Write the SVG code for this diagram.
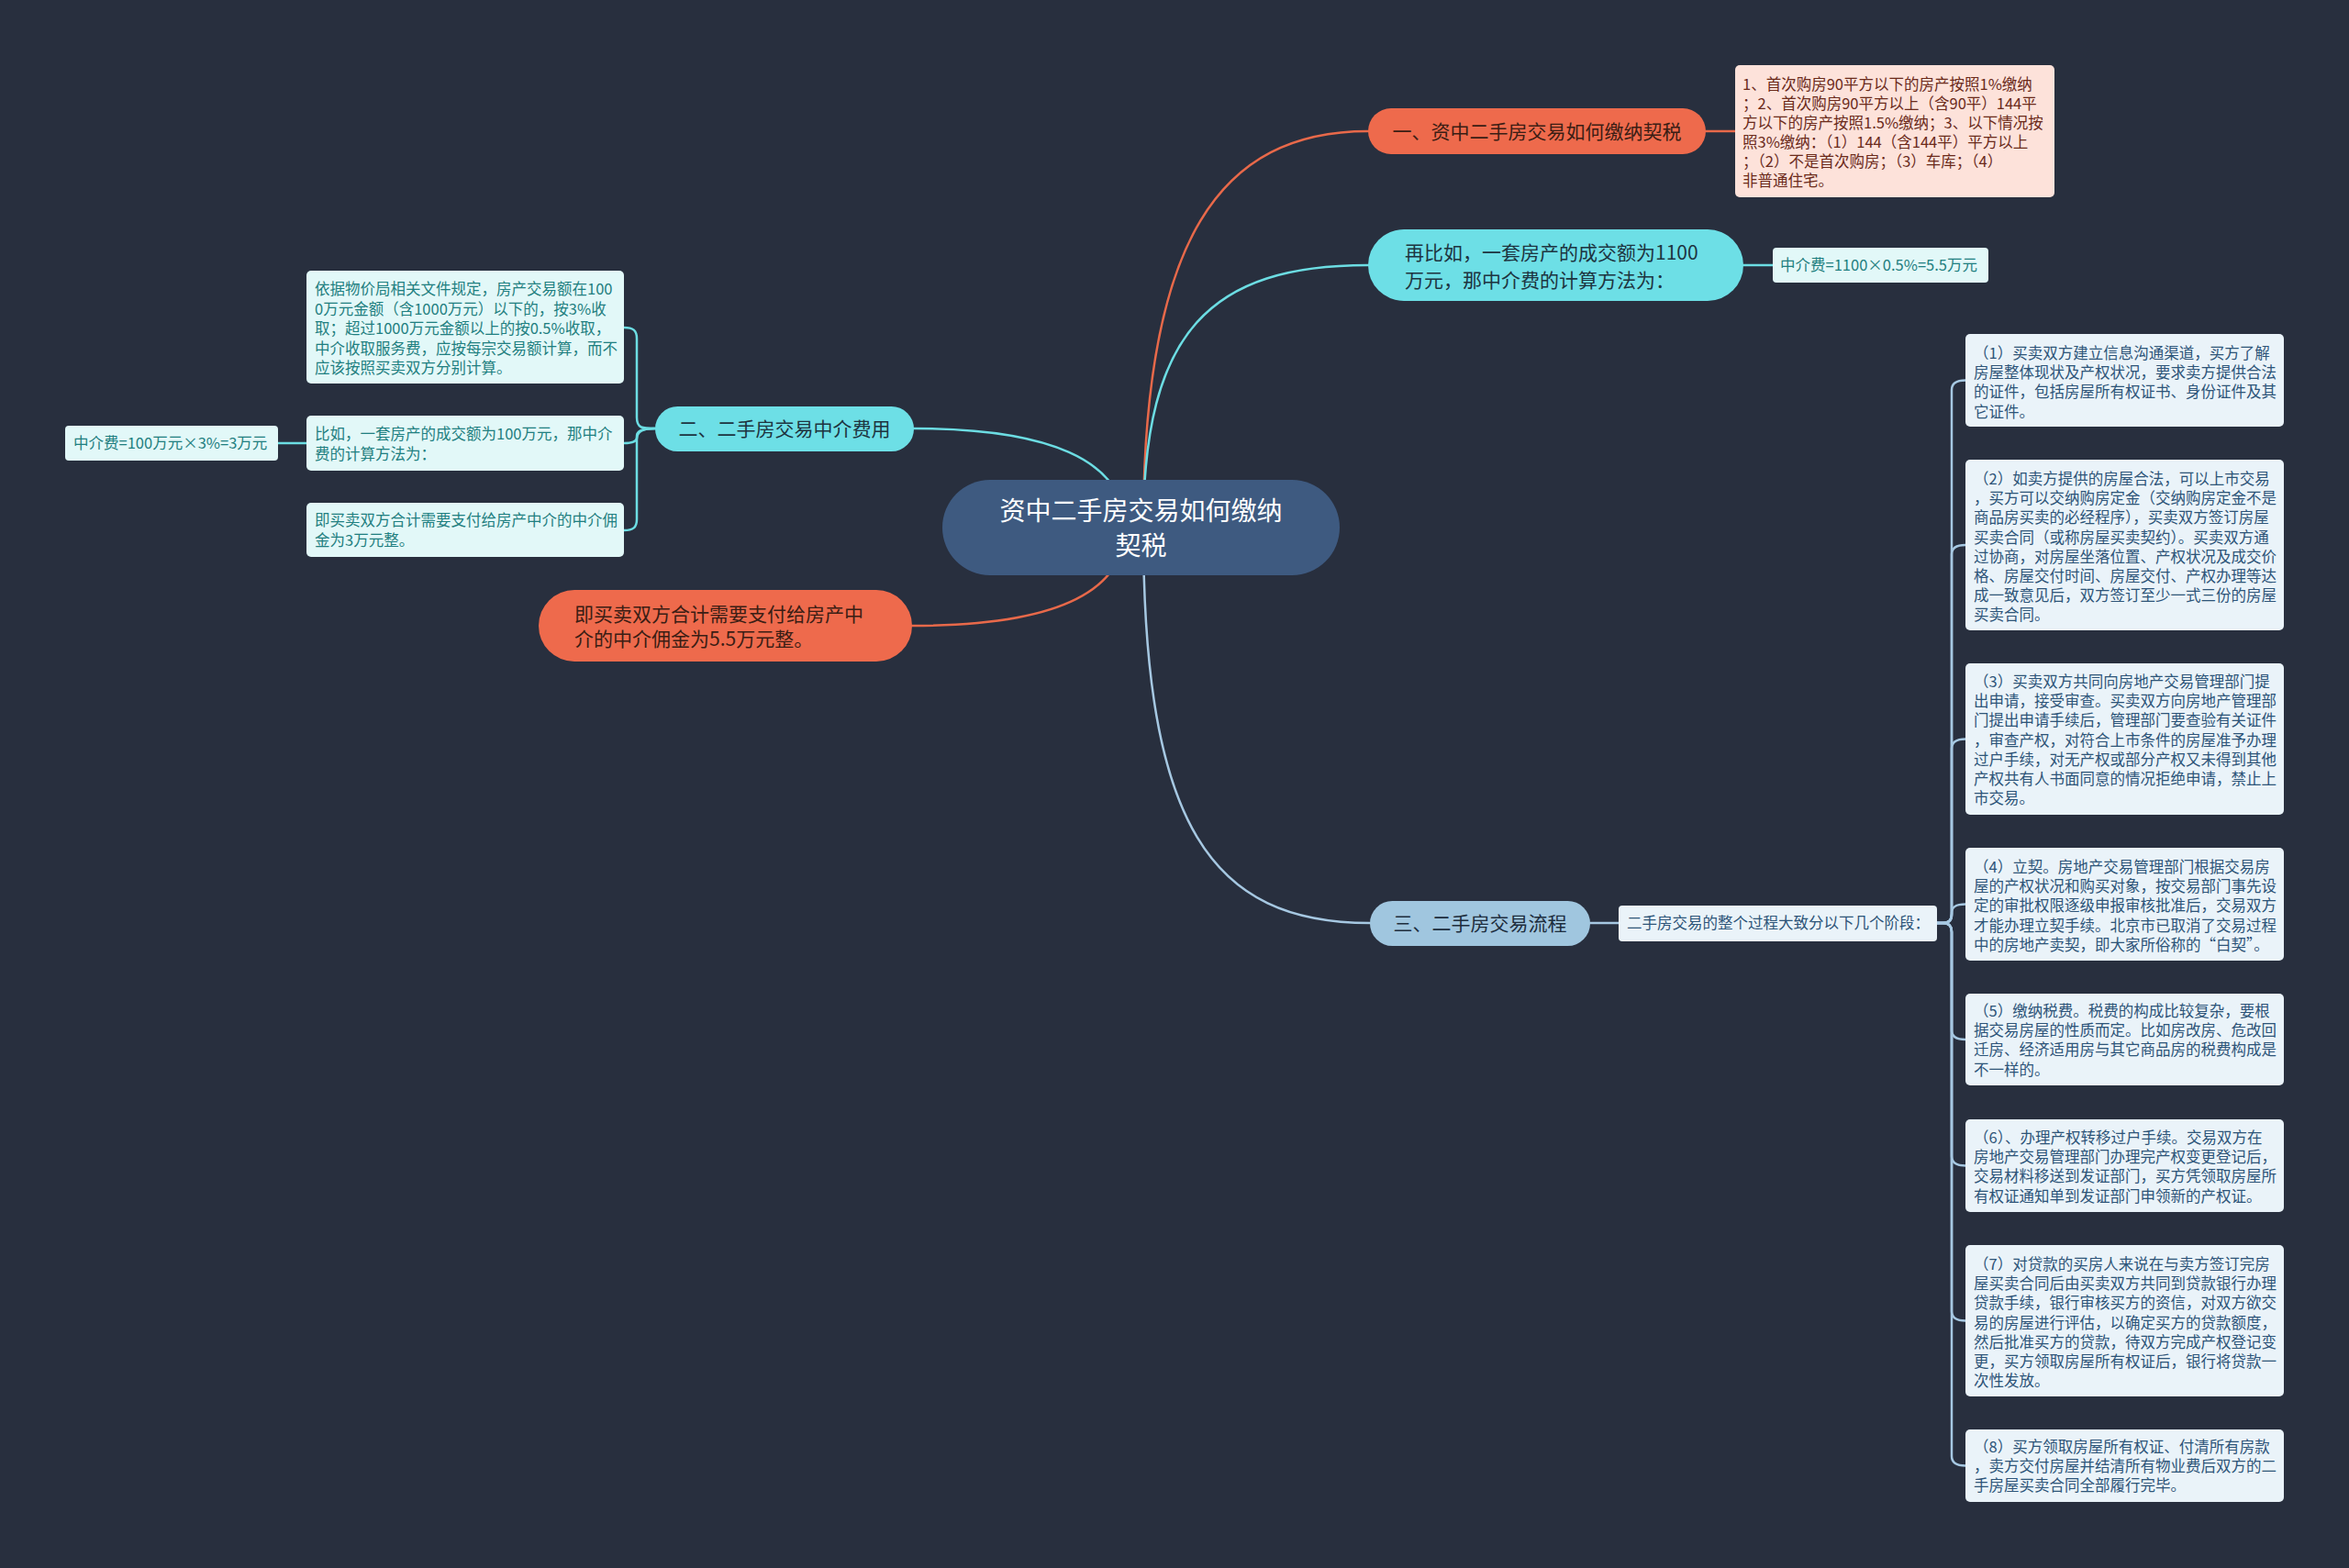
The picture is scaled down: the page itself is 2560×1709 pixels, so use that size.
<svg xmlns="http://www.w3.org/2000/svg" width="2560" height="1709" viewBox="0 0 2560 1709">
<style>
text{font-family:"Noto Sans CJK SC","Noto Sans",sans-serif;}
.c{fill:none;stroke-width:2.5;stroke-linecap:round}
.co{stroke:#e8694a}
.cc{stroke:#6cdde3}
.cb{stroke:#a6c8e2}
.root{fill:#3e5a80}
.rt{fill:#ffffff;font-size:28px}
.red{fill:#ee6a4c}
.redt{fill:#3b1d14;font-size:21px}
.pink{fill:#fde2da}
.pinkt{fill:#6b2a1a;font-size:16.5px}
.cyan{fill:#6ddfe6}
.cyant{fill:#1d3440;font-size:21px}
.lc{fill:#e2f8f8}
.lct{fill:#1f7f80;font-size:16.5px}
.steel{fill:#a0c6df}
.steelt{fill:#1d2d3d;font-size:21px}
.lb{fill:#eaf3f9}
.lbt{fill:#2d5478;font-size:16.5px}
</style>
<rect width="2560" height="1709" fill="#282f3e"/>
<g id="connectors">
<path class="c co" d="M1246,575 C1246,260 1330,143 1491,143"/>
<path class="c co" d="M1859,143 L1891,143"/>
<path class="c cc" d="M1246,575 C1246,360 1320,289 1491,289"/>
<path class="c cc" d="M1900,289 L1932,289"/>
<path class="c cc" d="M1226,575 C1226,500 1140,467 996,467"/>
<path class="c co" d="M1226,575 C1226,650 1140,682 994,682"/>
<path class="c cb" d="M1246,575 C1246,900 1320,1006 1493,1006"/>
<path class="c cb" d="M1733,1006 L1764,1006"/>
<path class="c cc" d="M714,467 C700,467 694,467 694,455 L694,369 C694,360 690,357 680,357"/>
<path class="c cc" d="M714,467 C700,467 694,470 694,475 L694,477 C694,481 690,483 680,483"/>
<path class="c cc" d="M714,467 C700,467 694,470 694,479 L694,566 C694,575 690,578 680,578"/>
<path class="c cc" d="M334,483 L303,483"/>
<path class="c cb" d="M2111,1006 L2117,1006 C2124,1006 2127,1003 2127,996 L2127,425 C2127,418 2132,414.5 2142,414.5"/>
<path class="c cb" d="M2111,1006 L2117,1006 C2124,1006 2127,1003 2127,996 L2127,604 C2127,597 2132,594 2142,594"/>
<path class="c cb" d="M2111,1006 L2117,1006 C2124,1006 2127,1003 2127,996 L2127,816 C2127,809 2132,805.5 2142,805.5"/>
<path class="c cb" d="M2111,1006 L2117,1006 C2124,1006 2127,1003 2127,998 L2127,995 C2127,988 2132,985.5 2142,985.5"/>
<path class="c cb" d="M2111,1006 L2117,1006 C2124,1006 2127,1009 2127,1016 L2127,1123 C2127,1130 2132,1133 2142,1133"/>
<path class="c cb" d="M2111,1006 L2117,1006 C2124,1006 2127,1009 2127,1016 L2127,1260 C2127,1267 2132,1270.5 2142,1270.5"/>
<path class="c cb" d="M2111,1006 L2117,1006 C2124,1006 2127,1009 2127,1016 L2127,1429 C2127,1436 2132,1439.5 2142,1439.5"/>
<path class="c cb" d="M2111,1006 L2117,1006 C2124,1006 2127,1009 2127,1016 L2127,1587 C2127,1594 2132,1597.5 2142,1597.5"/>
</g>
<g id="root">
<rect class="root" x="1027" y="523" width="433" height="104" rx="52"/>
<text class="rt" text-anchor="middle"><tspan x="1243.5" y="567">资中二手房交易如何缴纳</tspan><tspan x="1243.5" y="605">契税</tspan></text>
</g>
<g id="b1">
<rect class="red" x="1491" y="118" width="368" height="50" rx="25"/>
<text class="redt" x="1675" y="150.5" text-anchor="middle">一、资中二手房交易如何缴纳契税</text>
</g>
<g id="b1c1">
<rect class="pink" x="1891" y="71" width="348" height="144" rx="5"/>
<text class="pinkt"><tspan x="1899" y="98">1、首次购房90平方以下的房产按照1%缴纳</tspan><tspan x="1899" dy="21">；2、首次购房90平方以上（含90平）144平</tspan><tspan x="1899" dy="21">方以下的房产按照1.5%缴纳；3、以下情况按</tspan><tspan x="1899" dy="21">照3%缴纳：（1）144（含144平）平方以上</tspan><tspan x="1899" dy="21">；（2）不是首次购房；（3）车库；（4）</tspan><tspan x="1899" dy="21">非普通住宅。</tspan></text>
</g>
<g id="b2">
<rect class="cyan" x="1491" y="250" width="409" height="78" rx="39"/>
<text class="cyant"><tspan x="1531" y="283">再比如，一套房产的成交额为1100</tspan><tspan x="1531" y="313">万元，那中介费的计算方法为：</tspan></text>
</g>
<g id="b2c1">
<rect class="lc" x="1932" y="270" width="235" height="38" rx="4"/>
<text class="lct" x="1940" y="295">中介费=1100×0.5%=5.5万元</text>
</g>
<g id="b3">
<rect class="cyan" x="714" y="443" width="282" height="49" rx="24.5"/>
<text class="cyant" x="855" y="475" text-anchor="middle">二、二手房交易中介费用</text>
</g>
<g id="b3c1">
<rect class="lc" x="334" y="295" width="346" height="123" rx="5"/>
<text class="lct"><tspan x="343" y="321">依据物价局相关文件规定，房产交易额在100</tspan><tspan x="343" dy="21.5">0万元金额（含1000万元）以下的，按3%收</tspan><tspan x="343" dy="21.5">取；超过1000万元金额以上的按0.5%收取，</tspan><tspan x="343" dy="21.5">中介收取服务费，应按每宗交易额计算，而不</tspan><tspan x="343" dy="21.5">应该按照买卖双方分别计算。</tspan></text>
</g>
<g id="b3c2">
<rect class="lc" x="334" y="453" width="346" height="60" rx="5"/>
<text class="lct"><tspan x="343" y="479">比如，一套房产的成交额为100万元，那中介</tspan><tspan x="343" dy="21.5">费的计算方法为：</tspan></text>
</g>
<g id="b3c2c1">
<rect class="lc" x="71" y="464" width="232" height="38" rx="4"/>
<text class="lct" x="80" y="489">中介费=100万元×3%=3万元</text>
</g>
<g id="b3c3">
<rect class="lc" x="334" y="548" width="346" height="59" rx="5"/>
<text class="lct"><tspan x="343" y="573">即买卖双方合计需要支付给房产中介的中介佣</tspan><tspan x="343" dy="21.5">金为3万元整。</tspan></text>
</g>
<g id="b4">
<rect class="red" x="587" y="643" width="407" height="78" rx="39"/>
<text class="redt"><tspan x="626" y="677">即买卖双方合计需要支付给房产中</tspan><tspan x="626" y="704">介的中介佣金为5.5万元整。</tspan></text>
</g>
<g id="b5">
<rect class="steel" x="1493" y="982" width="240" height="49" rx="24.5"/>
<text class="steelt" x="1613" y="1013.5" text-anchor="middle">三、二手房交易流程</text>
</g>
<g id="b5c1">
<rect class="lb" x="1764" y="987" width="347" height="39" rx="4"/>
<text class="lbt" x="1773" y="1012">二手房交易的整个过程大致分以下几个阶段：</text>
</g>
<g id="s1">
<rect class="lb" x="2142" y="364" width="347" height="101" rx="5"/>
<text class="lbt"><tspan x="2151" y="391">（1）买卖双方建立信息沟通渠道，买方了解</tspan><tspan x="2151" dy="21.2">房屋整体现状及产权状况，要求卖方提供合法</tspan><tspan x="2151" dy="21.2">的证件，包括房屋所有权证书、身份证件及其</tspan><tspan x="2151" dy="21.2">它证件。</tspan></text>
</g>
<g id="s2">
<rect class="lb" x="2142" y="501" width="347" height="186" rx="5"/>
<text class="lbt"><tspan x="2151" y="528">（2）如卖方提供的房屋合法，可以上市交易</tspan><tspan x="2151" dy="21.2">，买方可以交纳购房定金（交纳购房定金不是</tspan><tspan x="2151" dy="21.2">商品房买卖的必经程序），买卖双方签订房屋</tspan><tspan x="2151" dy="21.2">买卖合同（或称房屋买卖契约）。买卖双方通</tspan><tspan x="2151" dy="21.2">过协商，对房屋坐落位置、产权状况及成交价</tspan><tspan x="2151" dy="21.2">格、房屋交付时间、房屋交付、产权办理等达</tspan><tspan x="2151" dy="21.2">成一致意见后，双方签订至少一式三份的房屋</tspan><tspan x="2151" dy="21.2">买卖合同。</tspan></text>
</g>
<g id="s3">
<rect class="lb" x="2142" y="723" width="347" height="165" rx="5"/>
<text class="lbt"><tspan x="2151" y="749">（3）买卖双方共同向房地产交易管理部门提</tspan><tspan x="2151" dy="21.2">出申请，接受审查。买卖双方向房地产管理部</tspan><tspan x="2151" dy="21.2">门提出申请手续后，管理部门要查验有关证件</tspan><tspan x="2151" dy="21.2">，审查产权，对符合上市条件的房屋准予办理</tspan><tspan x="2151" dy="21.2">过户手续，对无产权或部分产权又未得到其他</tspan><tspan x="2151" dy="21.2">产权共有人书面同意的情况拒绝申请，禁止上</tspan><tspan x="2151" dy="21.2">市交易。</tspan></text>
</g>
<g id="s4">
<rect class="lb" x="2142" y="924" width="347" height="123" rx="5"/>
<text class="lbt"><tspan x="2151" y="951">（4）立契。房地产交易管理部门根据交易房</tspan><tspan x="2151" dy="21.2">屋的产权状况和购买对象，按交易部门事先设</tspan><tspan x="2151" dy="21.2">定的审批权限逐级申报审核批准后，交易双方</tspan><tspan x="2151" dy="21.2">才能办理立契手续。北京市已取消了交易过程</tspan><tspan x="2151" dy="21.2">中的房地产卖契，即大家所俗称的“白契”。</tspan></text>
</g>
<g id="s5">
<rect class="lb" x="2142" y="1083" width="347" height="100" rx="5"/>
<text class="lbt"><tspan x="2151" y="1108">（5）缴纳税费。税费的构成比较复杂，要根</tspan><tspan x="2151" dy="21.2">据交易房屋的性质而定。比如房改房、危改回</tspan><tspan x="2151" dy="21.2">迁房、经济适用房与其它商品房的税费构成是</tspan><tspan x="2151" dy="21.2">不一样的。</tspan></text>
</g>
<g id="s6">
<rect class="lb" x="2142" y="1220" width="347" height="101" rx="5"/>
<text class="lbt"><tspan x="2151" y="1246">（6）、办理产权转移过户手续。交易双方在</tspan><tspan x="2151" dy="21.2">房地产交易管理部门办理完产权变更登记后，</tspan><tspan x="2151" dy="21.2">交易材料移送到发证部门，买方凭领取房屋所</tspan><tspan x="2151" dy="21.2">有权证通知单到发证部门申领新的产权证。</tspan></text>
</g>
<g id="s7">
<rect class="lb" x="2142" y="1357" width="347" height="165" rx="5"/>
<text class="lbt"><tspan x="2151" y="1384">（7）对贷款的买房人来说在与卖方签订完房</tspan><tspan x="2151" dy="21.2">屋买卖合同后由买卖双方共同到贷款银行办理</tspan><tspan x="2151" dy="21.2">贷款手续，银行审核买方的资信，对双方欲交</tspan><tspan x="2151" dy="21.2">易的房屋进行评估，以确定买方的贷款额度，</tspan><tspan x="2151" dy="21.2">然后批准买方的贷款，待双方完成产权登记变</tspan><tspan x="2151" dy="21.2">更，买方领取房屋所有权证后，银行将贷款一</tspan><tspan x="2151" dy="21.2">次性发放。</tspan></text>
</g>
<g id="s8">
<rect class="lb" x="2142" y="1558" width="347" height="79" rx="5"/>
<text class="lbt"><tspan x="2151" y="1583">（8）买方领取房屋所有权证、付清所有房款</tspan><tspan x="2151" dy="21.2">，卖方交付房屋并结清所有物业费后双方的二</tspan><tspan x="2151" dy="21.2">手房屋买卖合同全部履行完毕。</tspan></text>
</g>
</svg>
